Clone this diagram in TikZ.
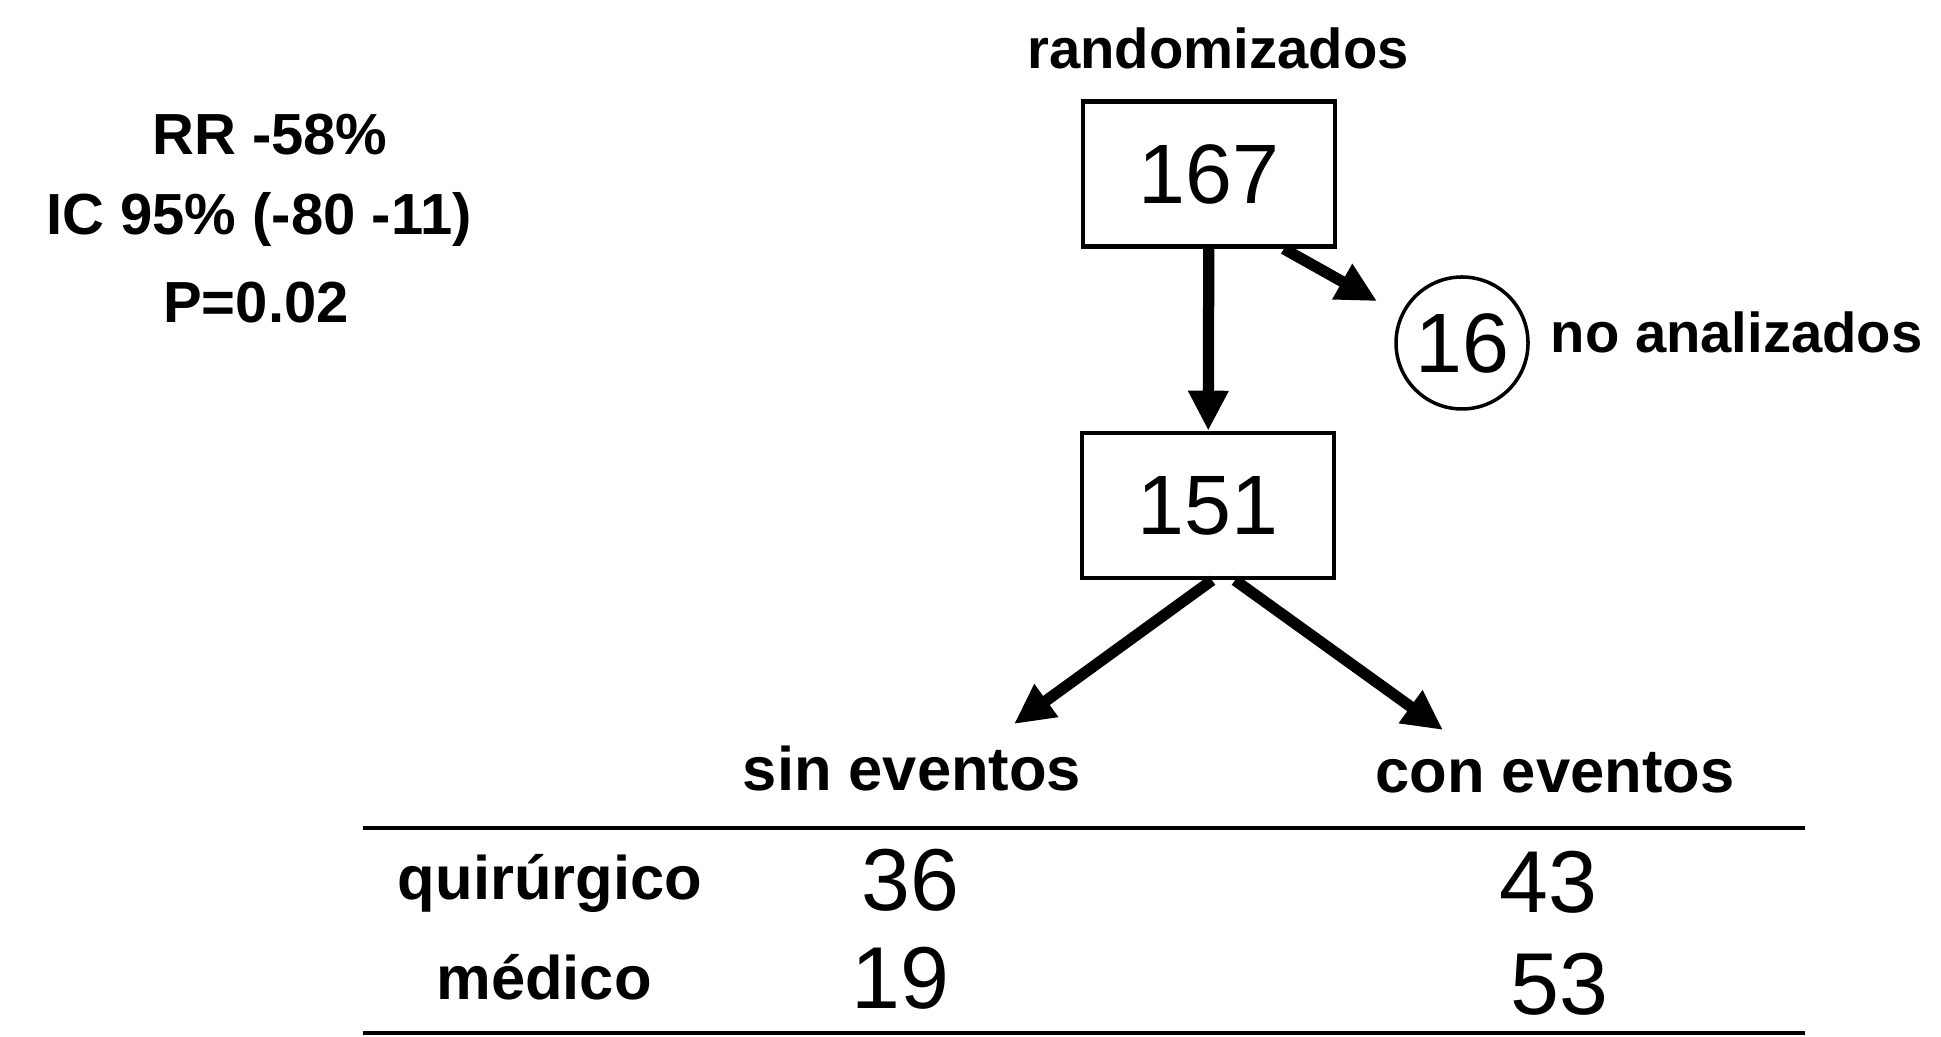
\documentclass[tikz,border=0pt]{standalone}
\usepackage{fontspec}
\setmainfont{Liberation Sans}
\usetikzlibrary{arrows.meta}

\begin{document}
\begin{tikzpicture}[
	        box/.style = {draw, line width=1.3pt, minimum width=2.52cm, minimum height=1.45cm,
	                      inner sep=0pt, font=\fontsize{24}{28}\selectfont},
	        arr/.style = {line width=3.2pt, -{Triangle[length=4mm,width=3.8mm]}},
	        txt/.style = {inner sep=0pt, anchor=base, font=\bfseries\fontsize{16.5}{20}\selectfont},
	        hdr/.style = {inner sep=0pt, anchor=base, font=\bfseries\fontsize{17.5}{21}\selectfont},
	        num/.style = {inner sep=0pt, anchor=base, font=\fontsize{25}{30}\selectfont},
	       rule/.style = {line width=1.3pt},
	                   ]
		\useasboundingbox (0,0) rectangle (19.41,10.37);
		% statistics
		\node[txt] (rr) at (2.70,8.82) {RR -58\%};
		\node[txt] (ic) at (2.59,8.02) {IC 95\% (-80 -11)};
		\node[txt] (pv) at (2.56,7.14) {P=0.02};
		% flow
		\node[txt, font=\bfseries\fontsize{16}{19}\selectfont] (rand) at (12.18,9.68) {randomizados};
		\node[box] (b167) at (12.09,8.63) {167};
		\node[box] (b151) at (12.08,5.315) {151};
		\node[circle, draw, line width=1pt, minimum size=1.32cm, inner sep=0pt,
		      font=\fontsize{24}{28}\selectfont] (c16) at (14.62,6.94) {16};
		\node[txt, anchor=base west, font=\bfseries\fontsize{16}{19}\selectfont] (noan) at (15.50,6.84) {no analizados};
		\coordinate (sintip) at (10.14,3.13);
		\coordinate (contip) at (14.43,3.07);
		\draw[arr] (b167) -- (b151);
		\draw[arr, shorten >=2.7mm] (b167.-45) -- (c16.155);
		\draw[arr] ([xshift=0.04cm]b151.south) -- (sintip);
		\draw[arr] ([xshift=0.27cm]b151.south) -- (contip);
		% table
		\node[hdr] (sinev) at (9.12,2.46) {sin eventos};
		\node[hdr] (conev) at (15.55,2.44) {con eventos};
		\draw[rule] (3.63,2.09) -- (18.05,2.09);
		\node[hdr] (quir) at (5.50,1.37) {quirúrgico};
		\node[hdr] (med) at (5.44,0.37) {médico};
		\node[num] (q36) at (9.10,1.26) {36};
		\node[num] (q43) at (15.48,1.24) {43};
		\node[num] (m19) at (9.00,0.28) {19};
		\node[num] (m53) at (15.59,0.22) {53};
		\draw[rule] (3.63,0.04) -- (18.05,0.04);
\end{tikzpicture}
\end{document}
